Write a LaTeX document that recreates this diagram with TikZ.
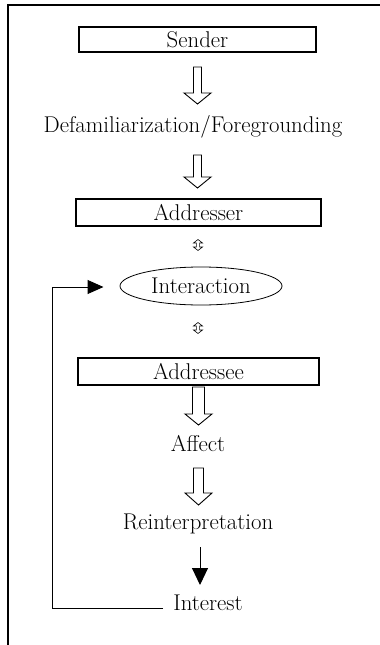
\documentclass[tikz,border=0pt]{standalone}
\usetikzlibrary{arrows.meta,shapes.geometric}
\tikzset{
  txt/.style={font=\fontsize{22.8}{27}\selectfont, inner sep=0pt},
  box/.style={txt, draw, line width=1.6pt, rectangle},
  oval/.style={txt, draw, line width=0.8pt, ellipse},
  hollow/.style={draw, line width=0.9pt, line join=miter, fill=white},
  frame/.style={line width=1.2pt},
  flow/.style={line width=1pt},
}
\newcommand{\hollowarrow}[6]{% x, top, bottom, shaft half, head half, head length
  \draw[hollow] (#1-#4,#2) -- (#1+#4,#2) -- (#1+#4,#3-#6) -- (#1+#5,#3-#6) -- (#1,#3)
    -- (#1-#5,#3-#6) -- (#1-#4,#3-#6) -- cycle;}
\newcommand{\smalldbl}[2]{% x, center y
  \draw[line width=0.6pt] (#1-1.6,#2-2) -- (#1-4.5,#2-2) -- (#1,#2-5.5) -- (#1+4.5,#2-2) -- (#1+1.6,#2-2)
    -- (#1+1.6,#2+2) -- (#1+4.5,#2+2) -- (#1,#2+5.5) -- (#1-4.5,#2+2) -- (#1-1.6,#2+2) -- cycle;}
\begin{document}
\begin{tikzpicture}[x=1pt,y=-1pt]
\useasboundingbox (0,0) rectangle (380,645);
% frame (cropped)
\draw[frame] (381,5) -- (8,5) -- (8,646);
% nodes
\node[box, minimum width=237pt, minimum height=25pt] (sender) at (197.5,39.5) {Sender};
\node[txt, anchor=base] (defam) at (193,132) {Defamiliarization/Foregrounding};
\node[box, minimum width=245pt, minimum height=27pt] (addresser) at (198.5,212.5) {Addresser};
\node[oval, minimum width=162pt, minimum height=38pt] (inter) at (201,286) {Interaction};
\node[box, minimum width=241pt, minimum height=27pt] (addressee) at (198.5,371.5) {Addressee};
\node[txt, anchor=base] (affect) at (198,451.5) {Affect};
\node[txt, anchor=base] (reint) at (198,529) {Reinterpretation};
\node[txt, anchor=base] (interest) at (208,610) {Interest};
% hollow arrows
\hollowarrow{197.5}{67}{104}{4}{13.5}{11}
\hollowarrow{197.5}{155}{188}{4}{13.5}{11}
\hollowarrow{198.5}{387}{425}{6}{13.5}{11}
\hollowarrow{198.5}{468}{505}{5}{13.5}{12}
% small double arrows
\smalldbl{198}{245}
\smalldbl{198}{328}
% black arrow
\coordinate (r1) at (200,547);
\coordinate (r2) at (200,585);
\draw[flow, -{Triangle[width=16pt,length=17pt]}] (r1) -- (r2);
% feedback loop
\coordinate (fb0) at (163,608);
\coordinate (fb1) at (52,608);
\coordinate (fb2) at (52,287);
\coordinate (fb3) at (103.5,287);
\draw[flow, -{Triangle[width=14pt,length=16pt]}] (fb0) -- (fb1) -- (fb2) -- (fb3);
\end{tikzpicture}
\end{document}
